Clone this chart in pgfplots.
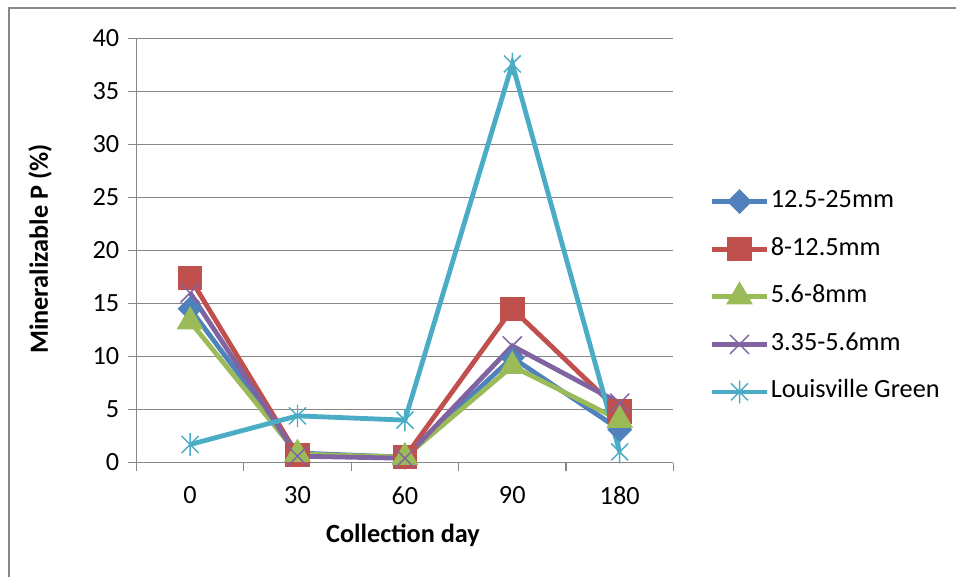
\documentclass[border=0pt]{standalone}
\usepackage{fontspec}
\setmainfont{Carlito}
\usepackage{pgfplots}
\pgfplotsset{compat=1.18}

\definecolor{sBlue}{HTML}{4F81BD}
\definecolor{sRed}{HTML}{C0504D}
\definecolor{sGreen}{HTML}{9BBB59}
\definecolor{sPurple}{HTML}{8064A2}
\definecolor{sAqua}{HTML}{4BACC6}
\definecolor{gridgray}{HTML}{868686}

% Excel-like markers
\pgfdeclareplotmark{xcross}{%
  \pgfpathmoveto{\pgfqpoint{-0.75\pgfplotmarksize}{-0.75\pgfplotmarksize}}%
  \pgfpathlineto{\pgfqpoint{0.75\pgfplotmarksize}{0.75\pgfplotmarksize}}%
  \pgfpathmoveto{\pgfqpoint{-0.75\pgfplotmarksize}{0.75\pgfplotmarksize}}%
  \pgfpathlineto{\pgfqpoint{0.75\pgfplotmarksize}{-0.75\pgfplotmarksize}}%
  \pgfusepathqstroke}
\pgfdeclareplotmark{xstar}{%
  \pgfpathmoveto{\pgfqpoint{-0.75\pgfplotmarksize}{-0.75\pgfplotmarksize}}%
  \pgfpathlineto{\pgfqpoint{0.75\pgfplotmarksize}{0.75\pgfplotmarksize}}%
  \pgfpathmoveto{\pgfqpoint{-0.75\pgfplotmarksize}{0.75\pgfplotmarksize}}%
  \pgfpathlineto{\pgfqpoint{0.75\pgfplotmarksize}{-0.75\pgfplotmarksize}}%
  \pgfpathmoveto{\pgfqpoint{0pt}{-\pgfplotmarksize}}%
  \pgfpathlineto{\pgfqpoint{0pt}{\pgfplotmarksize}}%
  \pgfusepathqstroke}
\pgfdeclareplotmark{ediamond}{%
  \pgfpathmoveto{\pgfqpoint{0pt}{\pgfplotmarksize}}%
  \pgfpathlineto{\pgfqpoint{\pgfplotmarksize}{0pt}}%
  \pgfpathlineto{\pgfqpoint{0pt}{-\pgfplotmarksize}}%
  \pgfpathlineto{\pgfqpoint{-\pgfplotmarksize}{0pt}}%
  \pgfpathclose\pgfusepathqfillstroke}

\newcommand{\chartfont}{\fontsize{19.7pt}{23.6pt}\selectfont}

\begin{document}
\begin{tikzpicture}[x=0.75pt,y=0.75pt]
  \useasboundingbox (0,0) rectangle (956,577);
  \begin{scope}
    \clip (0,0) rectangle (956,577);
    \draw[gridgray, line width=1pt] (9,-10) -- (9,569) -- (970,569);
  \end{scope}
  \begin{axis}[
    at={(127,108)}, anchor=south west,
    scale only axis,
    width=402.75pt, height=318pt,
    xmin=-0.5, xmax=4.5,
    ymin=0, ymax=40,
    axis lines*=left,
    axis line style={gridgray, line width=1pt},
    xtick={0,1,2,3,4},
    xticklabels={0,30,60,90,180},
    minor xtick={-0.5,0.5,1.5,2.5,3.5,4.5},
    ytick={0,5,...,40},
    major x tick style={draw=none},
    minor tick length=6pt,
    major tick length=6pt,
    tick align=outside,
    tick style={gridgray, line width=1pt},
    ymajorgrids,
    grid style={gridgray, line width=1pt},
    ticklabel style={font=\chartfont, text=black},
    /pgf/number format/assume math mode=true,
    yticklabel style={anchor=east, inner sep=0pt, xshift=-6.75pt},
    xticklabel style={anchor=north, inner sep=0pt, yshift=-12pt},
    every axis plot/.append style={line width=3.6pt, mark options={line width=1.1pt, solid}},
    legend style={
      at={(axis description cs:1.067,0.391)}, anchor=west,
      draw=none, fill=none, inner sep=0pt,
      font=\chartfont,
      row sep=16.7pt,
      nodes={inner sep=1pt, text height=13pt, text depth=4pt},
      /tikz/every even column/.append style={column sep=0pt},
    },
    legend cell align=left,
    legend image code/.code={%
      \draw[mark repeat=2, mark phase=2, line width=3.6pt]
        plot coordinates {(0pt,0pt) (20.6pt,0pt) (41.25pt,0pt)};},
    clip=false,
  ]
    \addplot[color=sBlue, mark=ediamond, mark size=6.8pt, mark options={fill=sBlue}]
      coordinates {(0,14.5) (1,0.9) (2,0.5) (3,9.9) (4,3.1)};
    \addlegendentry{12.5-25mm}
    \addplot[color=sRed, mark=square*, mark size=7.4pt, mark options={fill=sRed}]
      coordinates {(0,17.4) (1,0.7) (2,0.5) (3,14.5) (4,4.8)};
    \addlegendentry{8-12.5mm}
    \addplot[color=sGreen, mark=triangle*, mark size=8pt, mark options={fill=sGreen}]
      coordinates {(0,13.3) (1,0.8) (2,0.5) (3,9.1) (4,4.0)};
    \addlegendentry{5.6-8mm}
    \addplot[color=sPurple, mark=xcross, mark size=9.5pt]
      coordinates {(0,16.0) (1,0.6) (2,0.4) (3,11.0) (4,5.6)};
    \addlegendentry{3.35-5.6mm}
    \addplot[color=sAqua, mark=xstar, mark size=8.5pt]
      coordinates {(0,1.7) (1,4.4) (2,4.0) (3,37.6) (4,1.0)};
    \addlegendentry{Louisville Green}
  \end{axis}
  \node[rotate=90, font=\chartfont\bfseries] at (40,328) {Mineralizable P (\%)};
  \node[font=\chartfont\bfseries] at (403,42) {Collection day};
\end{tikzpicture}
\end{document}
